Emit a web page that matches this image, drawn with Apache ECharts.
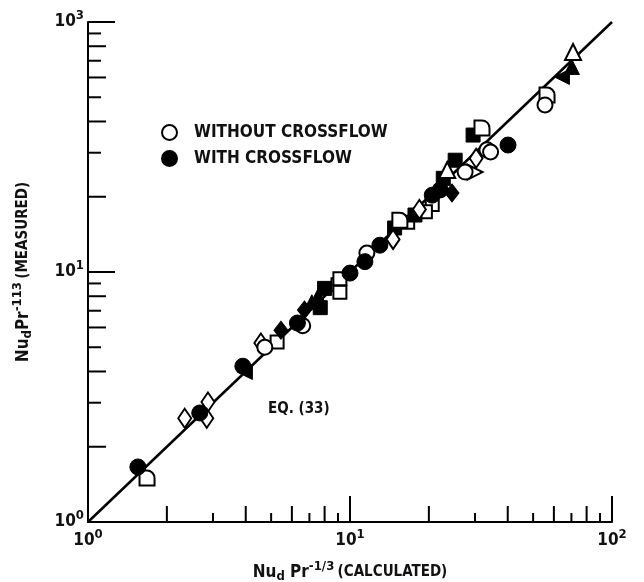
<!DOCTYPE html>
<html>
<head>
<meta charset="utf-8">
<script src="https://cdn.jsdelivr.net/npm/echarts@6/dist/echarts.min.js"></script>
<style>
  html, body { margin: 0; padding: 0; background: #fff; }
  #chart { width: 644px; height: 582px; }
</style>
</head>
<body>
<div id="chart"></div>
<script>
// values, [calculated, measured]
const openCircle = [[4.73, 5.0], [6.6, 6.1], [11.6, 11.9], [27.5, 25.1], [33.3, 30.8], [34.4, 30.2], [55.5, 46.6]]
const filledCircle = [[1.55, 1.66], [2.67, 2.73], [3.9, 4.2], [6.3, 6.25], [10.0, 9.9], [11.4, 11.0], [13.0, 12.8], [20.6, 20.3], [22.1, 21.3], [40.1, 32.2]]
const openSquare = [[5.27, 5.25], [9.0, 8.9], [9.15, 8.3], [9.15, 9.4], [16.6, 15.8], [20.6, 18.6], [19.4, 17.4]]
const filledSquare = [[7.7, 7.2], [8.0, 8.6], [14.8, 15.0], [17.7, 16.9], [22.7, 23.7], [25.2, 28.0], [29.5, 35.3]]
const openDiamond = [[2.34, 2.6], [2.87, 3.02], [2.84, 2.6], [4.57, 5.2], [14.6, 13.5], [30.3, 28.5], [18.4, 17.8]]
const filledDiamond = [[5.45, 5.85], [6.7, 7.05], [24.5, 20.7]]
const openTriangle = [[23.5, 25.6], [71, 75.9]]
const filledTriangle = [[7.15, 7.57], [7.55, 8.0], [70.3, 66.1]]
const openTriangleRight = [[30.0, 25.1]]
const filledTriangleLeft = [[3.97, 3.98], [64.4, 60.3]]
const openHalfRound = [[1.68, 1.5], [15.5, 16.1], [31.9, 37.7], [56.5, 51]]
const equationLine = [[1, 1], [100, 100]]

const xTickLabels = ['0', '1', '2']
const yTickLabels = ['0', '1', '3']
const minorTicks = [2, 3, 4, 5, 6, 7, 8, 9, 20, 30, 40, 50, 60, 70, 80, 90]

const font = 'DejaVu Sans Condensed'
const open = { color: '#fff', borderColor: '#000', borderWidth: 2, opacity: 1 }
const filled = { color: '#000', borderColor: '#000', borderWidth: 1, opacity: 1 }

function markers(name, data, symbol, size, style) {
  return {
    name: name,
    type: 'scatter',
    data: data,
    symbol: symbol,
    symbolSize: size,
    symbolKeepAspect: true,
    itemStyle: style,
    z: 3,
    silent: true
  }
}

function expLabel(labels) {
  return function(value) {
    const e = Math.round(Math.log10(value))
    return '{b|10}{s|' + labels[e] + '}'
  }
}

const labelRich = {
  b: { fontSize: 17, fontFamily: font, fontWeight: 'bold', color: '#111' },
  s: { fontSize: 13, fontFamily: font, fontWeight: 'bold', color: '#111', padding: [0, 0, 12, 0] }
}

const nameRich = {
  a: { fontSize: 17, fontFamily: font, fontWeight: 'bold', color: '#111' },
  sub: { fontSize: 13, fontFamily: font, fontWeight: 'bold', color: '#111', padding: [8, 0, 0, 0] },
  sup: { fontSize: 13, fontFamily: font, fontWeight: 'bold', color: '#111', padding: [0, 0, 12, 0] },
  c: { fontSize: 15, fontFamily: font, fontWeight: 'bold', color: '#111' }
}

// minor ticks drawn through the axis scales, long on even mantissa
function minorTickSeries(onX) {
  return {
    type: 'custom',
    silent: true,
    z: 4,
    data: minorTicks.map(v => onX ? [v, 1] : [1, v]),
    renderItem(params, api) {
      const v = onX ? api.value(0) : api.value(1)
      const m = Math.round(v / Math.pow(10, Math.floor(Math.log10(v) + 1e-9)))
      const len = onX ? (m % 2 === 0 ? 16 : 9) : (m % 2 === 0 ? 18 : 13)
      const p = api.coord([api.value(0), api.value(1)])
      return {
        type: 'line',
        shape: onX
          ? { x1: p[0], y1: p[1], x2: p[0], y2: p[1] - len }
          : { x1: p[0], y1: p[1], x2: p[0] + len, y2: p[1] },
        style: { stroke: '#000', lineWidth: 2 }
      }
    }
  }
}

const chart = echarts.init(document.getElementById('chart'))

chart.setOption({
  animation: false,
  backgroundColor: '#fff',
  grid: { left: 88, right: 32, top: 22, bottom: 60, outerBoundsMode: 'none', containLabel: false },
  legend: {
    data: ['WITHOUT CROSSFLOW', 'WITH CROSSFLOW'],
    orient: 'vertical',
    left: 156,
    top: 119,
    itemWidth: 15,
    itemHeight: 15,
    itemGap: 9,
    selectedMode: false,
    textStyle: { fontFamily: font, fontSize: 17, fontWeight: 'bold', color: '#111', padding: [0, 0, 0, 12] }
  },
  graphic: [{
    type: 'text',
    left: 268,
    top: 402,
    style: { text: 'EQ. (33)', font: 'bold 15px "DejaVu Sans Condensed"', fill: '#111' }
  }],
  xAxis: {
    type: 'log',
    logBase: 10,
    min: 1,
    max: 100,
    splitNumber: 2,
    axisLine: { lineStyle: { color: '#000', width: 2 } },
    axisTick: { inside: true, length: 26, lineStyle: { color: '#000', width: 2 } },
    axisLabel: { formatter: expLabel(xTickLabels), rich: labelRich, margin: 6 },
    splitLine: { show: false },
    name: '{a|Nu}{sub|d}{a| Pr}{sup|-1/3} {c|(CALCULATED)}',
    nameLocation: 'middle',
    nameGap: 38,
    nameTextStyle: { rich: nameRich }
  },
  yAxis: {
    type: 'log',
    logBase: 10,
    min: 1,
    max: 100,
    splitNumber: 2,
    axisLine: { lineStyle: { color: '#000', width: 2 } },
    axisTick: { inside: true, length: 27, lineStyle: { color: '#000', width: 2 } },
    axisLabel: { formatter: expLabel(yTickLabels), rich: labelRich, margin: 4 },
    splitLine: { show: false },
    name: '{a|Nu}{sub|d}{a|Pr}{sup|-113} {c|(MEASURED)}',
    nameLocation: 'middle',
    nameRotate: 90,
    nameGap: 52,
    nameTextStyle: { rich: nameRich }
  },
  series: [
    {
      name: 'EQ. (33)',
      type: 'line',
      data: equationLine,
      symbol: 'none',
      silent: true,
      lineStyle: { color: '#000', width: 2.5 },
      z: 2
    },
    minorTickSeries(true),
    minorTickSeries(false),
    markers('open square', openSquare, 'rect', 13, open),
    markers('filled square', filledSquare, 'rect', 14, filled),
    markers('open diamond', openDiamond, 'diamond', [13, 19], open),
    markers('filled diamond', filledDiamond, 'diamond', [14, 18], filled),
    markers('open triangle', openTriangle, 'triangle', 16, open),
    markers('filled triangle', filledTriangle, 'triangle', 15, filled),
    markers('open triangle right', openTriangleRight, 'path://M0,0 L10,5 L0,10 Z', 15, open),
    markers('filled triangle left', filledTriangleLeft, 'path://M10,0 L0,5 L10,10 Z', 15, filled),
    markers('open half round', openHalfRound, 'path://M0,0 L5,0 A5,5 0 0 1 10,5 L10,10 L0,10 Z', 15, open),
    markers('WITHOUT CROSSFLOW', openCircle, 'circle', 15, open),
    markers('WITH CROSSFLOW', filledCircle, 'circle', 16, filled)
  ]
})
</script>
</body>
</html>
